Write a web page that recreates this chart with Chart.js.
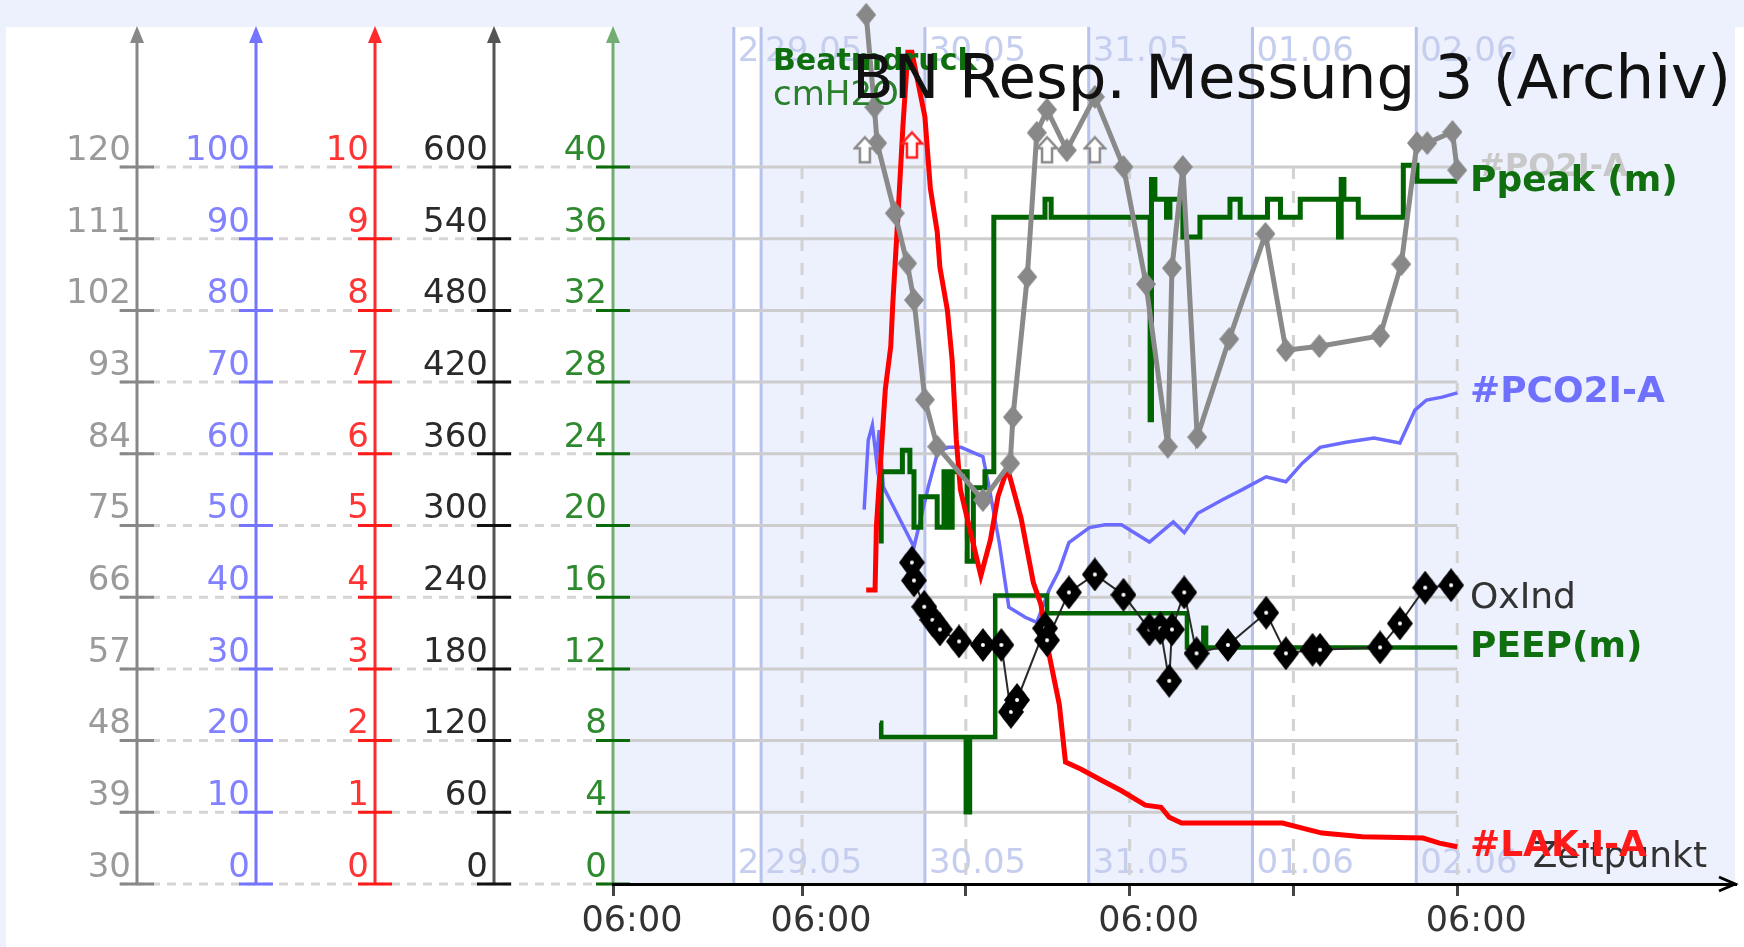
<!DOCTYPE html>
<html>
<head>
<meta charset="utf-8">
<title>BN Resp. Messung 3 (Archiv)</title>
<script src="https://cdn.jsdelivr.net/npm/chart.js@4.4.1/dist/chart.umd.min.js"></script>
<style>
  html, body { margin: 0; padding: 0; background: #ffffff; overflow: hidden; }
  canvas { display: block; }
</style>
</head>
<body>
<canvas id="resp" width="1744" height="947"></canvas>
<script>
// time is hours since 28.05 00:00
const dayHours = [20, 24, 48, 72, 96, 120];
const dayLabels = ['28.05', '29.05', '30.05', '31.05', '01.06', '02.06'];
const xMin = 2.3;
const xMax = 166.7;
const xTickHours = [2.3, 30, 54, 78, 102, 126];
const xTickLabels = ['06:00', '06:00', '', '06:00', '', '06:00'];
const gridEndHour = 126;

// five value axes (left to right)
const grayTicks = [30, 39, 48, 57, 66, 75, 84, 93, 102, 111, 120];
const blueTicks = [0, 10, 20, 30, 40, 50, 60, 70, 80, 90, 100];
const redTicks = [0, 1, 2, 3, 4, 5, 6, 7, 8, 9, 10];
const blackTicks = [0, 60, 120, 180, 240, 300, 360, 420, 480, 540, 600];
const greenTicks = [0, 4, 8, 12, 16, 20, 24, 28, 32, 36, 40];

// #LAK-I-A (red axis)
const lakHours = [39.4, 40.7, 40.9, 42.2, 43.0, 43.3, 44.1, 44.8, 45.5, 46.1, 48.0, 48.8, 49.8, 50.2, 51.3, 52.0, 52.6, 53.2, 56.2, 57.6, 58.7, 60.1, 62.1, 63.9, 65.0, 66.2, 67.7, 68.6, 70.9, 73.8, 76.8, 80.3, 82.6, 83.8, 85.6, 100.4, 103.3, 106.2, 112.1, 121.0, 123.4, 126.0];
const lakValues = [4.1, 4.1, 5.0, 6.9, 7.5, 8.1, 9.4, 10.6, 11.6, 11.6, 10.7, 9.7, 9.1, 8.6, 8.0, 7.3, 6.2, 5.5, 4.3, 4.8, 5.4, 5.8, 5.1, 4.2, 3.9, 3.2, 2.5, 1.7, 1.6, 1.45, 1.3, 1.1, 1.07, 0.93, 0.85, 0.85, 0.78, 0.71, 0.66, 0.64, 0.57, 0.52];
const lakHighHours = [46.1];
const lakHighValues = [10.3];

// #PCO2I-A (blue axis)
const pco2Hours = [39.1, 39.7, 40.3, 40.9, 41.3, 41.9, 46.4, 48.5, 49.9, 51.4, 53.3, 56.5, 57.4, 58.9, 60.3, 62.7, 64.4, 66.2, 67.7, 69.1, 72.1, 74.4, 76.8, 80.9, 84.4, 86.0, 88.0, 91.6, 94.5, 98.0, 100.9, 103.3, 105.9, 109.7, 113.8, 117.6, 119.8, 121.5, 123.8, 126.0];
const pco2Values = [52.2, 61.9, 64.0, 59.1, 63.3, 55.4, 47.0, 55.4, 60.3, 60.9, 60.9, 59.6, 55.4, 47.6, 38.6, 37.2, 36.5, 41.0, 43.8, 47.6, 49.7, 50.1, 50.1, 47.7, 50.5, 49.0, 51.7, 53.6, 55.0, 56.8, 56.1, 58.7, 60.9, 61.6, 62.2, 61.5, 66.1, 67.5, 67.9, 68.5];

// #PO2I-A (gray axis)
const po2Hours = [39.4, 40.6, 41.0, 43.6, 45.4, 46.4, 48.0, 49.8, 56.5, 60.5, 60.9, 63.0, 64.4, 65.9, 68.8, 72.9, 77.1, 80.4, 83.6, 84.2, 85.8, 87.9, 92.6, 97.9, 100.9, 105.8, 114.7, 117.8, 120.1, 121.6, 125.3, 126.0];
const po2Values = [139.1, 127.5, 123.0, 114.2, 107.9, 103.3, 90.8, 84.9, 78.2, 82.8, 88.6, 106.2, 124.3, 127.2, 122.1, 128.8, 120.0, 105.3, 84.9, 107.3, 120.0, 86.1, 98.4, 111.6, 97.0, 97.5, 98.8, 107.8, 123.0, 123.0, 124.4, 119.6];
const po2HighHours = [39.2, 65.9, 72.9];
const po2HighValues = [122.1, 122.1, 122.1];

// OxInd (black axis)
const oxHours = [46.1, 46.4, 47.9, 49.1, 50.2, 53.0, 56.5, 59.2, 60.6, 61.5, 65.6, 65.9, 69.1, 72.9, 77.1, 80.9, 82.5, 83.8, 84.2, 86.0, 87.8, 92.4, 98.0, 100.9, 104.8, 105.9, 114.7, 117.6, 121.3, 125.1];
const oxValues = [269, 254, 232, 221, 213, 203, 200, 200, 144, 154, 214, 204, 244, 259, 242, 213, 214, 170, 213, 244, 193, 200, 227, 193, 196, 196, 198, 218, 248, 250];

// Ppeak(m) and PEEP(m) (green axis, cmH2O)
const ppeakHours = [41.6, 41.6, 44.7, 45.8, 46.4, 47.4, 49.8, 50.8, 51.4, 52.0, 54.2, 55.1, 56.8, 58.1, 65.6, 66.5, 81.0, 81.2, 81.7, 83.4, 83.9, 85.8, 88.3, 92.7, 94.2, 98.2, 100.1, 103.0, 108.6, 109.0, 109.4, 111.5, 118.1, 120.1, 126.0];
const ppeakValues = [19.0, 23.0, 24.2, 23.0, 19.9, 21.6, 19.9, 23.0, 19.9, 23.0, 18.0, 22.1, 23.0, 37.2, 38.2, 37.2, 25.9, 39.3, 38.2, 37.2, 38.2, 36.1, 37.2, 38.2, 37.2, 38.2, 37.2, 38.2, 36.1, 39.3, 38.2, 37.2, 40.1, 39.2, 39.2];
const peepHours = [41.4, 41.6, 54.0, 54.6, 58.3, 65.9, 86.4, 88.8, 89.2, 126.0];
const peepValues = [9.0, 8.2, 4.0, 8.2, 16.1, 15.1, 13.2, 14.3, 13.2, 13.2];

const FONT = '"DejaVu Sans", Verdana, sans-serif';
const PALE = '#edf1fd';
const TOP_RATIO = 854 / 717; // axes run a bit past the last labelled tick

function pts(hours, values) {
  return hours.map((h, i) => ({ x: h, y: values[i] }));
}

function makeMarker(w, h, draw) {
  const c = document.createElement('canvas');
  c.width = w;
  c.height = h;
  draw(c.getContext('2d'), w, h);
  return c;
}
function diamond(g, w, h) {
  g.beginPath();
  g.moveTo(w / 2, 0); g.lineTo(w, h / 2); g.lineTo(w / 2, h); g.lineTo(0, h / 2);
  g.closePath();
}
const oxMarker = makeMarker(26, 34, (g, w, h) => {
  g.fillStyle = '#000';
  diamond(g, w, h); g.fill();
  g.beginPath(); g.ellipse(w / 2, h / 2, w / 2 - 3, h / 2 - 6, 0, 0, Math.PI * 2); g.fill();
  g.fillStyle = '#fff'; g.beginPath(); g.arc(w / 2, h / 2, 2, 0, Math.PI * 2); g.fill();
});
const grayMarker = makeMarker(20, 24, (g, w, h) => {
  g.fillStyle = '#888888'; diamond(g, w, h); g.fill();
});
function house(color) {
  return makeMarker(24, 30, (g) => {
    g.beginPath();
    g.moveTo(12, 2); g.lineTo(22, 13); g.lineTo(17, 13); g.lineTo(17, 27);
    g.lineTo(7, 27); g.lineTo(7, 13); g.lineTo(2, 13); g.closePath();
    g.fillStyle = '#fff'; g.fill();
    g.lineWidth = 2.5; g.strokeStyle = color; g.stroke();
  });
}

const axisStyles = [
  { id: 'yGray', line: '#878787', mark: '#888888', ticks: grayTicks },
  { id: 'yBlue', line: '#7474ff', mark: '#7474ff', ticks: blueTicks },
  { id: 'yRed', line: '#ff2a2a', mark: '#ff1a1a', ticks: redTicks },
  { id: 'yBlack', line: '#555555', mark: '#111111', ticks: blackTicks },
  { id: 'yGreen', line: '#72ad72', mark: '#0b6b0b', ticks: greenTicks }
];

function yAxis(ticks, color, weight) {
  const min = ticks[0];
  const last = ticks[ticks.length - 1];
  return {
    type: 'linear',
    position: 'left',
    weight: weight,
    min: min,
    max: min + (last - min) * TOP_RATIO,
    afterBuildTicks: s => { s.ticks = ticks.map(v => ({ value: v })); },
    afterFit: s => { s.width = 119; },
    grid: { display: false, drawTicks: false },
    border: { display: false },
    ticks: {
      color: color,
      font: { family: FONT, size: 34 },
      padding: 6,
      labelOffset: -16,
      autoSkip: false,
      callback: v => String(v)
    }
  };
}

function text(ctx, str, x, y, font, color, align, baseline) {
  ctx.font = font;
  ctx.fillStyle = color;
  ctx.textAlign = align || 'left';
  ctx.textBaseline = baseline || 'middle';
  ctx.fillText(str, x, y);
}

const backdrop = {
  id: 'backdrop',
  beforeDraw(chart) {
    const { ctx, chartArea: ca, scales } = chart;
    const x = scales.x;
    const yg = scales.yGreen;
    const W = chart.width, H = chart.height;
    const top = 27;
    ctx.save();
    ctx.fillStyle = '#ffffff';
    ctx.fillRect(0, 0, W, H);
    ctx.fillStyle = PALE;
    ctx.fillRect(0, 0, W, top);
    ctx.fillRect(0, 0, 6, H);
    ctx.fillRect(ca.left, top, ca.right - ca.left, ca.bottom - top);

    // alternating day bands
    const bandX = dayHours.map(h => x.getPixelForValue(h));
    ctx.fillStyle = '#ffffff';
    for (let i = 0; i < dayHours.length; i += 2) {
      const x0 = bandX[i];
      const x1 = i + 1 < bandX.length ? bandX[i + 1] : ca.right;
      ctx.fillRect(x0, top, x1 - x0, ca.bottom - top);
    }
    // day lines
    ctx.strokeStyle = '#b7c3ec';
    ctx.lineWidth = 3;
    bandX.forEach(bx => {
      ctx.beginPath(); ctx.moveTo(bx, top); ctx.lineTo(bx, ca.bottom); ctx.stroke();
    });
    // day labels, clipped to their band
    dayLabels.forEach((lab, i) => {
      const x0 = bandX[i];
      const x1 = i + 1 < bandX.length ? bandX[i + 1] : ca.right;
      ctx.save();
      ctx.beginPath(); ctx.rect(x0, 0, x1 - x0, H); ctx.clip();
      text(ctx, lab, x0 + 4, 52, '34px ' + FONT, '#c6cef0');
      text(ctx, lab, x0 + 4, 864, '34px ' + FONT, '#c6cef0');
      ctx.restore();
    });

    // horizontal grid
    const gridEnd = x.getPixelForValue(gridEndHour);
    const leftStart = scales.yGray.right - 18;
    greenTicks.forEach((v, i) => {
      const y = yg.getPixelForValue(v);
      ctx.lineWidth = 3;
      ctx.strokeStyle = '#d5d5d5';
      ctx.setLineDash([9, 7]);
      ctx.beginPath(); ctx.moveTo(leftStart, y); ctx.lineTo(ca.left, y); ctx.stroke();
      ctx.setLineDash([]);
      if (i > 0) {
        ctx.strokeStyle = '#cdcdcd';
        ctx.beginPath(); ctx.moveTo(ca.left, y); ctx.lineTo(gridEnd, y); ctx.stroke();
      }
    });
    // vertical dashed grid at 06:00
    const gridTop = yg.getPixelForValue(greenTicks[greenTicks.length - 1]);
    ctx.strokeStyle = '#d2d2d2';
    ctx.setLineDash([12, 12]);
    xTickHours.slice(1).forEach(h => {
      const px = x.getPixelForValue(h);
      ctx.beginPath(); ctx.moveTo(px, gridTop); ctx.lineTo(px, ca.bottom); ctx.stroke();
    });
    ctx.setLineDash([]);

    // value axes with arrows and tick marks
    axisStyles.forEach(a => {
      const s = scales[a.id];
      const ax = s.right;
      ctx.strokeStyle = a.line;
      ctx.fillStyle = a.line;
      ctx.lineWidth = 3;
      ctx.beginPath(); ctx.moveTo(ax, s.bottom); ctx.lineTo(ax, 38); ctx.stroke();
      ctx.beginPath(); ctx.moveTo(ax, 26); ctx.lineTo(ax + 7, 43); ctx.lineTo(ax - 7, 43); ctx.closePath(); ctx.fill();
      ctx.strokeStyle = a.mark;
      a.ticks.forEach(v => {
        const y = s.getPixelForValue(v);
        ctx.beginPath(); ctx.moveTo(ax - 17, y); ctx.lineTo(ax + 17, y); ctx.stroke();
      });
    });
    ctx.restore();
  },
  afterDraw(chart) {
    const { ctx, chartArea: ca, scales } = chart;
    ctx.save();
    // arrow of the time axis
    ctx.strokeStyle = '#000';
    ctx.lineWidth = 3;
    ctx.beginPath();
    ctx.moveTo(ca.right - 16, ca.bottom - 7); ctx.lineTo(ca.right, ca.bottom); ctx.lineTo(ca.right - 16, ca.bottom + 7);
    ctx.stroke();

    text(ctx, 'Beatmdruck', 773, 62, 'bold 30px ' + FONT, '#0f6f0f');
    text(ctx, 'cmH2O', 773, 96, '34px ' + FONT, '#2a7f2a');
    text(ctx, 'BN Resp. Messung 3 (Archiv)', 1731, 98, '61px ' + FONT, '#111111', 'right', 'alphabetic');

    const lx = 1470;
    const endY = (id, vals) => scales[id].getPixelForValue(vals[vals.length - 1]);
    text(ctx, '#PO2I-A', lx + 8, endY('yGray', po2Values) - 2, 'bold 32px ' + FONT, '#c8c8c8');
    text(ctx, 'Ppeak (m)', lx, endY('yGreen', ppeakValues), 'bold 36px ' + FONT, '#107010');
    text(ctx, '#PCO2I-A', lx, endY('yBlue', pco2Values), 'bold 36px ' + FONT, '#7070ff');
    text(ctx, 'OxInd', lx, endY('yBlack', oxValues) + 13, '36px ' + FONT, '#333333');
    text(ctx, 'PEEP(m)', lx, endY('yGreen', peepValues), 'bold 36px ' + FONT, '#107010');
    text(ctx, 'Zeitpunkt', 1707, 858, '36px ' + FONT, '#333333', 'right');
    text(ctx, '#LAK-I-A', lx, endY('yRed', lakValues), 'bold 36px ' + FONT, '#ff1a1a');
    ctx.restore();
  }
};

const line = (label, hours, values, axis, color, width, extra) => Object.assign({
  label: label,
  data: pts(hours, values),
  yAxisID: axis,
  borderColor: color,
  backgroundColor: color,
  borderWidth: width,
  pointRadius: 0,
  tension: 0,
  fill: false
}, extra || {});

new Chart(document.getElementById('resp'), {
  type: 'line',
  data: {
    datasets: [
      line('OxInd', oxHours, oxValues, 'yBlack', '#2a2a2a', 2, { pointStyle: oxMarker, pointRadius: 10 }),
      line('#PO2I-A >', po2HighHours, po2HighValues, 'yGray', '#888888', 0, { showLine: false, pointStyle: house('#8a8a8a'), pointRadius: 10 }),
      line('#LAK-I-A >', lakHighHours, lakHighValues, 'yRed', '#ff0000', 0, { showLine: false, pointStyle: house('#ff2020'), pointRadius: 10 }),
      // large radius only widens the in-area check so the top point above the axis is still drawn
      line('#PO2I-A', po2Hours, po2Values, 'yGray', '#8a8a8a', 5, { pointStyle: grayMarker, pointRadius: 36, clip: false }),
      line('#LAK-I-A', lakHours, lakValues, 'yRed', '#ff0000', 5),
      line('Ppeak(m)', ppeakHours, ppeakValues, 'yGreen', '#006400', 5, { stepped: true }),
      line('PEEP(m)', peepHours, peepValues, 'yGreen', '#006400', 4.5, { stepped: true }),
      line('#PCO2I-A', pco2Hours, pco2Values, 'yBlue', '#6b6bff', 3.5)
    ]
  },
  options: {
    responsive: false,
    animation: false,
    devicePixelRatio: 1,
    layout: { autoPadding: false, padding: { left: 18, top: 30, right: 9, bottom: 0 } },
    plugins: {
      legend: { display: false },
      title: { display: false },
      tooltip: { enabled: false }
    },
    scales: {
      x: {
        type: 'linear',
        position: 'bottom',
        min: xMin,
        max: xMax,
        afterBuildTicks: s => { s.ticks = xTickHours.map(v => ({ value: v })); },
        afterFit: s => { s.height = 63; },
        grid: { drawOnChartArea: false, drawTicks: true, tickLength: 12, color: '#444444', lineWidth: 3 },
        border: { display: true, color: '#000000', width: 3 },
        ticks: {
          color: '#333333',
          font: { family: FONT, size: 35 },
          padding: 5,
          labelOffset: 19,
          maxRotation: 0,
          autoSkip: false,
          callback: (v, i) => xTickLabels[i]
        }
      },
      yGreen: yAxis(greenTicks, '#2f8a2f', 1),
      yBlack: yAxis(blackTicks, '#2a2a2a', 2),
      yRed: yAxis(redTicks, '#ff3535', 3),
      yBlue: yAxis(blueTicks, '#8282ff', 4),
      yGray: yAxis(grayTicks, '#9a9a9a', 5)
    }
  },
  plugins: [backdrop]
});
</script>
</body>
</html>
